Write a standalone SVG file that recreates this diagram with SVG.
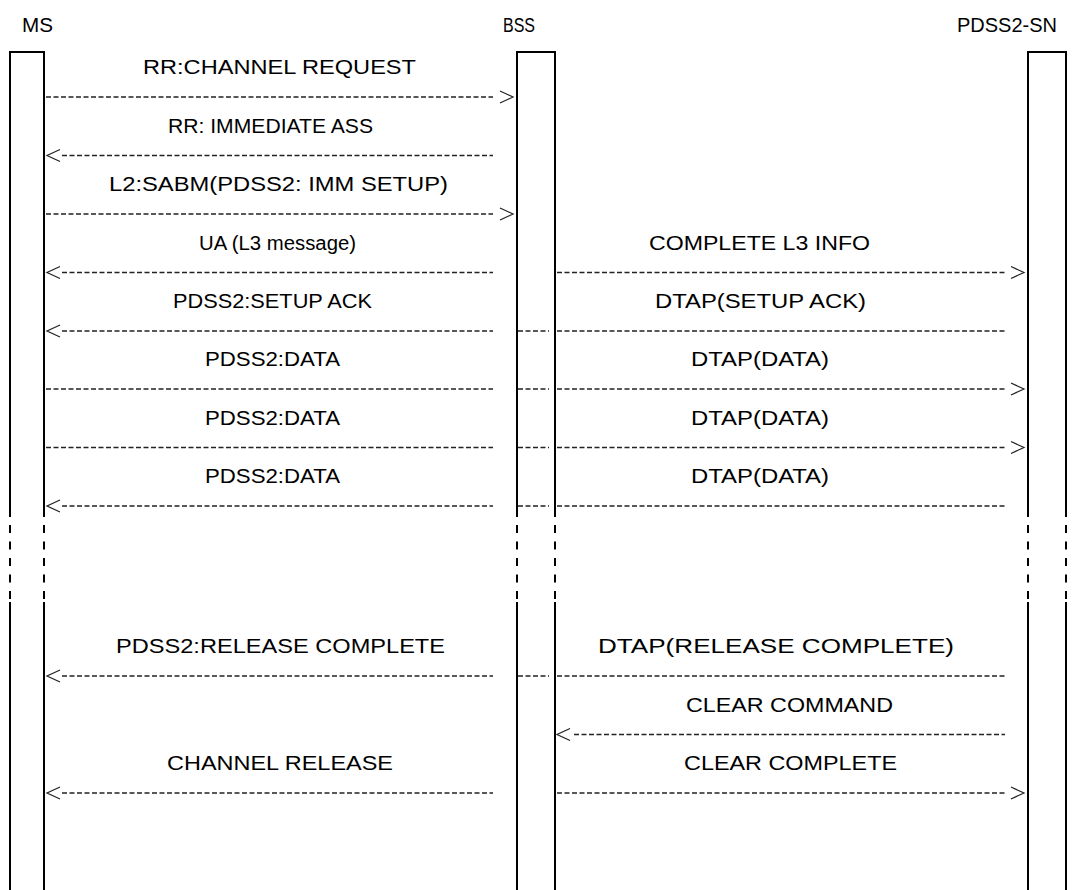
<svg xmlns="http://www.w3.org/2000/svg" width="1077" height="890" viewBox="0 0 1077 890">
<style>
.bg{fill:#fff}
.life{fill:none;stroke:#000;stroke-width:2}
.lifed{fill:none;stroke:#000;stroke-width:2;stroke-dasharray:8 8.5}
.msg{fill:none;stroke:#222;stroke-width:1.4;stroke-dasharray:5 2.5}
.head{fill:none;stroke:#222;stroke-width:1.2}
text{font-family:"Liberation Sans",Arial,sans-serif;font-size:20px;fill:#000}
</style>
<rect class="bg" x="0" y="0" width="1077" height="890"/>
<g id="node-ms">
<text x="22" y="32" textLength="31" lengthAdjust="spacingAndGlyphs">MS</text>
<path class="life" d="M10,890 V602 M10,517 V52 H44 V517 M44,602 V890"/>
<path class="lifed" d="M10,525 V602 M44,525 V602"/>
</g>
<g id="node-bss">
<text x="503" y="32" textLength="32" lengthAdjust="spacingAndGlyphs">BSS</text>
<path class="life" d="M517,890 V602 M517,517 V52 H555 V517 M555,602 V890"/>
<path class="lifed" d="M517,525 V602 M555,525 V602"/>
</g>
<g id="node-sn">
<text x="957" y="32" textLength="100" lengthAdjust="spacingAndGlyphs">PDSS2-SN</text>
<path class="life" d="M1028,890 V602 M1028,517 V52 H1066 V517 M1066,602 V890"/>
<path class="lifed" d="M1028,525 V602 M1066,525 V602"/>
</g>
<g id="connectors">
<path class="msg" d="M46,97 H493"/><path class="head" d="M500,91 L513,97 L500,103"/>
<text x="143" y="74" textLength="273" lengthAdjust="spacingAndGlyphs">RR:CHANNEL REQUEST</text>
<path class="msg" d="M62,155.5 H493"/><path class="head" d="M60,149.5 L47,155.5 L60,161.5"/>
<text x="168" y="132.5" textLength="205" lengthAdjust="spacingAndGlyphs">RR: IMMEDIATE ASS</text>
<path class="msg" d="M46,214 H493"/><path class="head" d="M500,208 L513,214 L500,220"/>
<text x="109" y="191" textLength="339" lengthAdjust="spacingAndGlyphs">L2:SABM(PDSS2: IMM SETUP)</text>
<path class="msg" d="M62,272.5 H493"/><path class="head" d="M60,266.5 L47,272.5 L60,278.5"/>
<text x="199" y="249.5" textLength="157" lengthAdjust="spacingAndGlyphs">UA (L3 message)</text>
<path class="msg" d="M557,272.5 H1005"/><path class="head" d="M1011,266.5 L1024,272.5 L1011,278.5"/>
<text x="649" y="249.5" textLength="221" lengthAdjust="spacingAndGlyphs">COMPLETE L3 INFO</text>
<path class="msg" d="M62,331 H493 M518,331 H549 M557,331 H1005"/><path class="head" d="M60,325 L47,331 L60,337"/>
<text x="173" y="308" textLength="199" lengthAdjust="spacingAndGlyphs">PDSS2:SETUP ACK</text>
<text x="655" y="308" textLength="211" lengthAdjust="spacingAndGlyphs">DTAP(SETUP ACK)</text>
<path class="msg" d="M46,389 H493 M518,389 H549 M557,389 H1005"/><path class="head" d="M1011,383 L1024,389 L1011,395"/>
<text x="205" y="366" textLength="135" lengthAdjust="spacingAndGlyphs">PDSS2:DATA</text>
<text x="691" y="366" textLength="138" lengthAdjust="spacingAndGlyphs">DTAP(DATA)</text>
<path class="msg" d="M46,447.5 H493 M518,447.5 H549 M557,447.5 H1005"/><path class="head" d="M1011,441.5 L1024,447.5 L1011,453.5"/>
<text x="205" y="424.5" textLength="135" lengthAdjust="spacingAndGlyphs">PDSS2:DATA</text>
<text x="691" y="424.5" textLength="138" lengthAdjust="spacingAndGlyphs">DTAP(DATA)</text>
<path class="msg" d="M62,506 H493 M518,506 H549 M557,506 H1005"/><path class="head" d="M60,500 L47,506 L60,512"/>
<text x="205" y="483" textLength="135" lengthAdjust="spacingAndGlyphs">PDSS2:DATA</text>
<text x="691" y="483" textLength="138" lengthAdjust="spacingAndGlyphs">DTAP(DATA)</text>
<path class="msg" d="M62,676 H493 M518,676 H549 M557,676 H1005"/><path class="head" d="M60,670 L47,676 L60,682"/>
<text x="116" y="653" textLength="329" lengthAdjust="spacingAndGlyphs">PDSS2:RELEASE COMPLETE</text>
<text x="598" y="653" textLength="356" lengthAdjust="spacingAndGlyphs">DTAP(RELEASE COMPLETE)</text>
<path class="msg" d="M574,734.5 H1005"/><path class="head" d="M570,728.5 L557,734.5 L570,740.5"/>
<text x="686" y="711.5" textLength="207" lengthAdjust="spacingAndGlyphs">CLEAR COMMAND</text>
<path class="msg" d="M62,793 H493"/><path class="head" d="M60,787 L47,793 L60,799"/>
<text x="167" y="770" textLength="226" lengthAdjust="spacingAndGlyphs">CHANNEL RELEASE</text>
<path class="msg" d="M557,793 H1005"/><path class="head" d="M1011,787 L1024,793 L1011,799"/>
<text x="684" y="770" textLength="213" lengthAdjust="spacingAndGlyphs">CLEAR COMPLETE</text>
</g>
</svg>
